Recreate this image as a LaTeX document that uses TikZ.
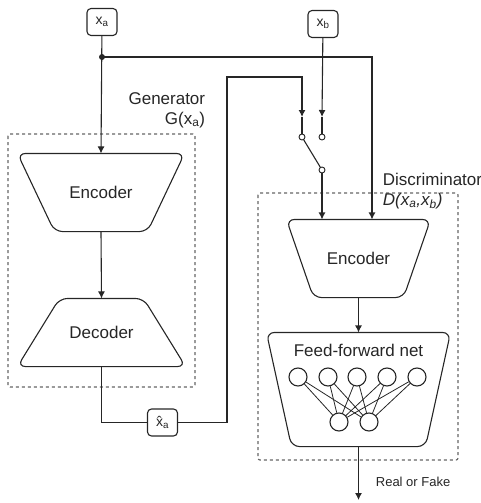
\documentclass[tikz,border=0pt]{standalone}
\usepackage{fontspec}
\setmainfont{Liberation Sans}
\usetikzlibrary{arrows.meta}

\begin{document}
\begin{tikzpicture}[x=1pt,y=-1pt,line width=1.1pt,draw=black!85,
  >={Latex[length=7pt,width=7pt]},
  every node/.style={font=\fontsize{17}{20}\selectfont,text=black!85},
  inbox/.style={draw,rounded corners=4pt,minimum width=30pt,minimum height=27pt,inner sep=0pt,font=\fontsize{14}{16}\selectfont},
  block/.style={inner sep=0pt},
  outline/.style={draw,rounded corners=8pt},
  group/.style={draw=black!60,dash pattern=on 3pt off 3pt,line width=1.2pt,rounded corners=2pt},
  neuron/.style={draw,circle,minimum size=18pt,inner sep=0pt},
  port/.style={draw,circle,minimum size=6pt,inner sep=0pt,fill=white,line width=0.9pt}]

\useasboundingbox (0,0) rectangle (481,503);

% frames
\draw[group] (8,134) rectangle (195,387);
\draw[group] (258,193) rectangle (458,460);

% inputs
\node[inbox] (xa) at (102,22) {x\textsubscript{a}};
\node[inbox] (xb) at (323,24) {x\textsubscript{b}};
\node[inbox] (xh) at (162.5,422.5) {x̂\textsubscript{a}};

% generator
\node[block,minimum width=166pt,minimum height=77pt] (genc) at (101,192.5) {Encoder};
\draw[outline] (genc.north) -- (genc.north east) -- ([xshift=-37pt]genc.south east)
  -- ([xshift=37pt]genc.south west) -- (genc.north west) -- cycle;
\node[block,minimum width=167pt,minimum height=67pt] (gdec) at (101.5,332.5) {Decoder};
\draw[outline] (gdec.south) -- (gdec.south east) -- ([xshift=-42pt]gdec.north east)
  -- ([xshift=42pt]gdec.north west) -- (gdec.south west) -- cycle;
\node[align=right,anchor=east] (glbl) at (209,110) {Generator\\G(x\textsubscript{a})};

% discriminator
\node[block,minimum width=143pt,minimum height=77pt] (denc) at (358.5,258.5) {Encoder};
\draw[outline] (denc.north) -- (denc.north east) -- ([xshift=-27pt]denc.south east)
  -- ([xshift=27pt]denc.south west) -- (denc.north west) -- cycle;
\node[block,minimum width=183pt,minimum height=113pt] (ffn) at (358.5,389.5) {};
\draw[outline] (ffn.north) -- (ffn.north east) -- ([xshift=-25pt]ffn.south east)
  -- ([xshift=25pt]ffn.south west) -- (ffn.north west) -- cycle;
\node (ffnlbl) at (358.5,350) {Feed-forward net};
\node[align=left,anchor=west] (dlbl) at (379,191) {Discriminator\\\textit{D(x\textsubscript{a},x\textsubscript{b})}};

\foreach \i/\x in {1/298,2/328,3/357,4/387,5/417}
  \node[neuron] (n\i) at (\x,377) {};
\node[neuron] (m1) at (339,422) {};
\node[neuron] (m2) at (369,422) {};
\foreach \i in {1,...,5}
  \foreach \j in {1,2}
    \draw[line width=0.8pt] (n\i) -- (m\j);

% switch
\node[port] (s1) at (302,137) {};
\node[port] (s2) at (322,137) {};
\node[port] (s3) at (322,170) {};
\coordinate (t1) at (302,117);
\coordinate (t2) at (322,117);
\coordinate (ja) at (102,57);
\coordinate (out) at (358.5,500);

% connectors
\draw[->] (xa) -- (genc.north);
\fill[black!85] (ja) circle (3pt);
\draw[->] (ja) -| ([xshift=13.5pt]denc.north);
\draw[->] (xb) -- (t2);
\draw (t2) -- (s2);
\draw[->] (genc.south) -- (gdec.north);
\draw (gdec.south) |- (xh);
\draw[->] (xh) -| (227,77) -| (t1);
\draw (t1) -- (s1);
\draw (s1) -- (s3);
\draw[->] (s3) -- (s3 |- denc.north);
\draw[->] (denc.south) -- (ffn.north);
\draw[->] (ffn.south) -- (out);
\node[anchor=west,font=\fontsize{13}{15}\selectfont] (rof) at (372,482) {Real or Fake};

\end{tikzpicture}
\end{document}
